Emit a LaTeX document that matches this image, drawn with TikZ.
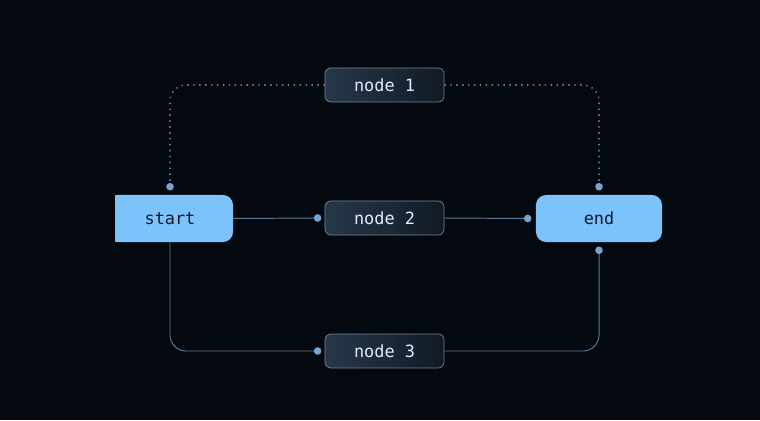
\documentclass[tikz,border=0pt]{standalone}
\usepackage{fontspec}
\setmonofont{DejaVu Sans Mono}
\usetikzlibrary{positioning}
\definecolor{bgcol}{HTML}{04080F}
\definecolor{bluefill}{HTML}{7DC3FB}
\definecolor{bluetext}{HTML}{0B1A2B}
\definecolor{boxleft}{HTML}{263849}
\definecolor{boxright}{HTML}{111A24}
\definecolor{boxline}{HTML}{71879A}
\definecolor{linkcol}{HTML}{5A7A98}
\definecolor{dotcol}{HTML}{74A4CF}

\begin{document}
\begin{tikzpicture}
[
x=0.025cm, y=-0.025cm,
endnode/.style={rectangle, rounded corners=0.25cm, fill=bluefill, text=bluetext, minimum width=3.15cm, minimum height=1.175cm, font=\ttfamily\large},
midnode/.style={rectangle, rounded corners=0.15cm, draw=boxline, line width=0.5pt, left color=boxleft, right color=boxright, text=white!90!blue, minimum width=2.975cm, minimum height=0.85cm, font=\ttfamily\large},
link/.style={draw=linkcol, line width=0.7pt, rounded corners=0.4cm},
dotlink/.style={draw=linkcol, line width=1.1pt, dash pattern=on 1pt off 3.2pt, rounded corners=0.4cm},
joint/.style={fill=dotcol}
]
\fill[bgcol] (0,0) rectangle (760,420);
\begin{scope}
\clip (115,0) rectangle (760,420);
\node[endnode] (start) at (170, 218.5) {start};
\end{scope}
\node[endnode] (end) at (599, 218.5) {end};
\node[midnode] (n1) at (384.5, 85) {node 1};
\node[midnode] (n2) at (384.5, 218) {node 2};
\node[midnode] (n3) at (384.5, 351) {node 3};

\coordinate[above=0.2cm of start.north] (sTop);
\coordinate[above=0.2cm of end.north] (eTop);
\coordinate[below=0.2cm of end.south] (eBot);
\coordinate[left=0.175cm of n2.west] (n2in);
\coordinate[left=0.2cm of end.west] (ein);
\coordinate[left=0.175cm of n3.west] (n3in);

\draw[dotlink] (sTop) |- (n1.west);
\draw[dotlink] (n1.east) -| (eTop);
\draw[link] (start.east) -- (n2in);
\draw[link] (n2.east) -- (ein);
\draw[link] (start.south) |- (n3in);
\draw[link] (n3.east) -| (eBot);

\foreach \p in {sTop, eTop, eBot, n2in, ein, n3in}
  \fill[joint] (\p) circle (0.095cm);
\end{tikzpicture}
\end{document}
